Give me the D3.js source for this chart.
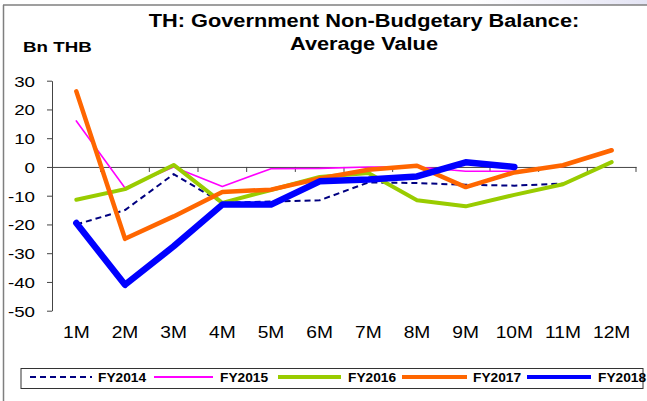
<!DOCTYPE html>
<html>
<head>
<meta charset="utf-8">
<script src="https://cdn.jsdelivr.net/npm/d3@7"></script>
<style>
  html, body { margin: 0; padding: 0; background: #fff; }
  svg { display: block; }
  text { font-family: "Liberation Sans", Arial, sans-serif; fill: #000; }
</style>
</head>
<body>
<svg id="chart" width="647" height="401"></svg>
<script>
// ---- data ----
const months = ["1M","2M","3M","4M","5M","6M","7M","8M","9M","10M","11M","12M"];
const yTicks = [30, 20, 10, 0, -10, -20, -30, -40, -50];
const fy2014 = [-20, -15, -2.5, -12.5, -12, -11.6, -5.4, -5.6, -6.2, -6.5, -5.8, null];
const fy2015 = [16, -7.3, 0, -6.8, -0.6, -0.5, 0, 0, -1.5, -1.5, 0.2, 6.2];
const fy2016 = [-11.4, -7.7, 0.7, -12.5, -8, -3.5, -2.1, -11.6, -13.7, -9.7, -6, 1.7];
const fy2017 = [26.3, -25, -17.2, -8.7, -7.9, -4, -1, 0.4, -7, -1.9, 0.6, 5.8];
const fy2018 = [-19.5, -41, -27.6, -13.1, -13.1, -5, -4.4, -3.3, 1.6, 0, null, null];
const seriesNames = ["FY2014","FY2015","FY2016","FY2017","FY2018"];
const seriesValues = [fy2014, fy2015, fy2016, fy2017, fy2018];

// ---- styles ----
const styles = [
  {color:"#000080", width:2,   dash:"6,4", lw:2},
  {color:"#FF00FF", width:1.6, dash:null,  lw:2},
  {color:"#99CC00", width:4,   dash:null,  lw:4},
  {color:"#FF6600", width:4.5, dash:null,  lw:4},
  {color:"#0000FF", width:6.5, dash:null,  lw:4}
];

const svg = d3.select("#chart");

// background frame
const defs = svg.append("defs");
const grad = defs.append("linearGradient").attr("id","tr").attr("x1","0").attr("x2","1").attr("y1","0").attr("y2","0");
grad.append("stop").attr("offset","0").attr("stop-color","#ffffff");
grad.append("stop").attr("offset","1").attr("stop-color","#e4e4f4");
svg.append("rect").attr("x",470).attr("y",0).attr("width",177).attr("height",5).attr("fill","url(#tr)");
svg.append("line").attr("x1",3).attr("x2",647).attr("y1",5).attr("y2",5).attr("stroke","#7f7f7f").attr("stroke-width",1.5);
svg.append("line").attr("x1",3.5).attr("x2",3.5).attr("y1",5).attr("y2",401).attr("stroke","#7f7f7f").attr("stroke-width",1.5);

// scales
const x = d3.scaleBand().domain(months).range([52, 636]);
const y = d3.scaleLinear().domain([-50, 30]).range([310.7, 80.7]);
const cx = m => x(m) + x.bandwidth() / 2;

// helper for horizontally stretched text
function stext(g, px, py, str, size, sx, opts = {}) {
  const t = g.append("g").attr("transform", `translate(${px},${py}) scale(${sx},1)`)
    .append("text").text(str).attr("font-size", size)
    .attr("text-anchor", opts.anchor || "start")
    .attr("font-weight", opts.bold ? "bold" : "normal");
  return t;
}

// title
stext(svg, 364, 27, "TH: Government Non-Budgetary Balance:", 18, 1.21, {anchor:"middle", bold:true});
stext(svg, 364, 50, "Average Value", 18, 1.21, {anchor:"middle", bold:true});
stext(svg, 23, 52, "Bn THB", 15, 1.25, {bold:true});

// y axis
const yAxis = svg.append("g").attr("transform", "translate(52,0)")
  .call(d3.axisLeft(y).tickValues(yTicks).tickSize(5).tickSizeOuter(0).tickFormat(""));
yAxis.select(".domain").attr("stroke", "#444");
yAxis.selectAll(".tick line").attr("stroke", "#444");
yAxis.selectAll(".tick").each(function(d) {
  stext(d3.select(this), -17, 5.3, String(d), 15, 1.25, {anchor:"end"});
});

// x axis at zero
const xAxis = svg.append("g").attr("transform", `translate(0,${y(0)})`)
  .call(d3.axisBottom(x).tickSize(0).tickSizeOuter(0).tickFormat(""));
xAxis.select(".domain").attr("stroke", "#444");
xAxis.selectAll(".tick").remove();
xAxis.selectAll("line.bt").data(months).enter().append("line").attr("class","bt")
  .attr("x1", m => x(m) + x.bandwidth()).attr("x2", m => x(m) + x.bandwidth())
  .attr("y1", 0).attr("y2", 5).attr("stroke", "#444");

// x labels
const xl = svg.append("g");
months.forEach(m => stext(xl, cx(m), 338, m, 16, 1.2, {anchor:"middle"}));

// lines
const line = d3.line()
  .defined(d => d.v != null)
  .x(d => cx(d.m))
  .y(d => y(d.v));
seriesValues.forEach((vals, i) => {
  const s = styles[i];
  svg.append("path")
    .datum(vals.map((v, j) => ({m: months[j], v})))
    .attr("d", line)
    .attr("fill", "none")
    .attr("stroke", s.color)
    .attr("stroke-width", s.width)
    .attr("stroke-dasharray", s.dash)
    .attr("stroke-linejoin", "round")
    .attr("stroke-linecap", s.dash ? "butt" : "round");
});

// legend
const lg = svg.append("g");
lg.append("rect").attr("x", 21).attr("y", 368.5).attr("width", 622).attr("height", 20)
  .attr("fill", "#fff").attr("stroke", "#333").attr("stroke-width", 1);
const legendPos = [
  {x1:30, x2:92, tx:98},
  {x1:154, x2:213, tx:220},
  {x1:278, x2:341, tx:348},
  {x1:402, x2:467, tx:473},
  {x1:527, x2:591, tx:598}
];
seriesNames.forEach((n, i) => {
  const p = legendPos[i], s = styles[i];
  lg.append("line").attr("x1", p.x1).attr("x2", p.x2).attr("y1", 377).attr("y2", 377)
    .attr("stroke", s.color).attr("stroke-width", s.lw).attr("stroke-dasharray", s.dash);
  stext(lg, p.tx, 381.5, n, 12.5, 1.1, {bold:true});
});
</script>
</body>
</html>
